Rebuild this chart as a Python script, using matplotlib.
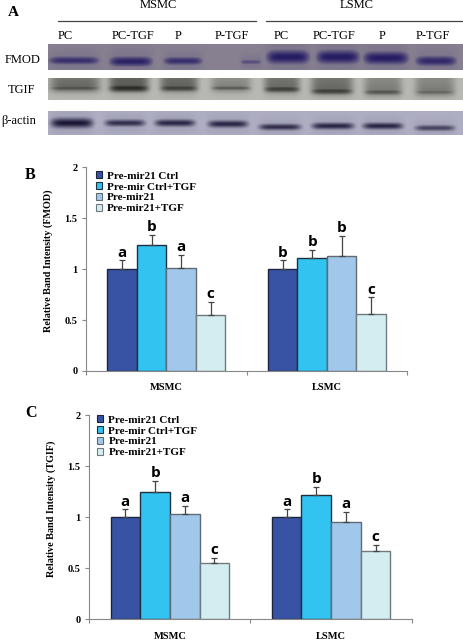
#!/usr/bin/env python3
import numpy as np
import matplotlib
matplotlib.use('Agg')
import matplotlib.pyplot as plt
from matplotlib.colors import LinearSegmentedColormap
from matplotlib.patches import Patch

W, H = 464, 640

groups = ['MSMC', 'LSMC']
series = ['Pre-mir21 Ctrl', 'Pre-mir Ctrl+TGF', 'Pre-mir21', 'Pre-mir21+TGF']
bar_colors = ['#3953a4', '#33c3f0', '#a1c8ea', '#d3edf1']
edge_colors = ['#1c2440', '#1c3040', '#5f6a75', '#6f7a80']

# panel B (FMOD): rows are series, columns are MSMC, LSMC
fmod_vals = [[1.0, 1.0], [1.235, 1.105], [1.015, 1.13], [0.553, 0.563]]
fmod_tops = [[1.085, 1.085], [1.335, 1.19], [1.138, 1.328], [0.68, 0.723]]
fmod_letters = [['a', 'b'], ['b', 'b'], ['a', 'b'], ['c', 'c']]

# panel C (TGIF)
tgif_vals = [[1.0, 1.0], [1.245, 1.222], [1.036, 0.95], [0.552, 0.67]]
tgif_tops = [[1.078, 1.078], [1.36, 1.3], [1.11, 1.052], [0.605, 0.732]]
tgif_letters = [['a', 'a'], ['b', 'b'], ['a', 'a'], ['c', 'c']]

yticks = [0, 0.5, 1, 1.5, 2]
ytick_labels = ['0', '0.5', '1', '1.5', '2']

# panel A, lane labels
lanes = ['PC', 'PC-TGF', 'P', 'P-TGF', 'PC', 'PC-TGF', 'P', 'P-TGF']
lane_label_x = [65, 133, 178, 232, 281, 334, 382, 433]

# blots: band centre x, half width, centre y, half height, strength
fmod_x = [74, 131, 183, 251, 288, 338, 386, 436]
fmod_w = [26, 22, 20, 11, 22, 22, 23, 21]
fmod_y = [60.5, 61.5, 61, 62, 57, 57, 58, 61]
fmod_h = [4.5, 5.5, 4.5, 3, 7.5, 7.5, 7, 5.5]
fmod_s = [0.85, 0.95, 0.85, 0.6, 1.0, 1.0, 1.0, 0.9]

tgif_x = [75, 129, 179, 231, 282, 332, 383, 435]
tgif_w = [25, 20, 19, 20, 18, 21, 19, 20]
tgif_y = [88, 88, 88, 88, 89, 91, 92, 92]
tgif_h = [3.2, 4.5, 4, 2.8, 4, 4, 3.4, 3.2]
tgif_s = [0.72, 0.95, 0.82, 0.65, 0.82, 0.82, 0.68, 0.58]
tgif_smear = [0.42, 0.5, 0.45, 0.25, 0.4, 0.42, 0.3, 0.3]

actin_x = [72, 125, 175, 228, 280, 333, 383, 435]
actin_w = [21, 20, 20, 20, 21, 21, 20, 20]
actin_y = [123, 123, 123, 124, 127, 126, 126, 128]
actin_h = [5, 3.5, 3.6, 3.6, 3.2, 3.4, 3.4, 3]
actin_s = [1.0, 0.85, 0.9, 0.9, 0.85, 0.9, 0.9, 0.72]

plt.rcParams['font.family'] = ['Liberation Serif', 'DejaVu Serif']

fig = plt.figure(figsize=(W / 100, H / 100), dpi=100)
page = fig.add_axes([0, 0, 1, 1])
page.set_xlim(0, W)
page.set_ylim(H, 0)
page.axis('off')


def draw_blot(y0, y1, xs, ws, ys, hs, ss, light, dark, base, smear=None):
    px = np.arange(48, 464) + 0.5
    py = np.arange(y0, y1) + 0.5
    gx, gy = np.meshgrid(px, py)
    img = base * np.ones_like(gx)
    for i, (x, w, y, h, s) in enumerate(zip(xs, ws, ys, hs, ss)):
        across = np.exp(-((gx - x) / w) ** 6)
        band = across * np.exp(-((gy - y) / h) ** 2)
        img += 0.1 * across * np.exp(-((gy - y) / (h * 2.5)) ** 2)
        if smear is not None:
            img += smear[i] * across * np.where(gy < y, 1, np.exp(-((gy - y) / 4) ** 2))
        img = np.maximum(img, s * band)
    cmap = LinearSegmentedColormap.from_list('blot', [light, dark])
    page.imshow(np.clip(img, 0, 1), cmap=cmap, vmin=0, vmax=1, aspect='auto',
                extent=(48, 464, y1, y0), interpolation='bilinear', zorder=1)


draw_blot(44, 70, fmod_x, fmod_w, fmod_y, fmod_h, fmod_s, '#a09a9c', '#251c64', 0.2)
draw_blot(78, 100, tgif_x, tgif_w, tgif_y, tgif_h, tgif_s, '#c0c0bc', '#23231f', 0.05, tgif_smear)
draw_blot(111, 135, actin_x, actin_w, actin_y, actin_h, actin_s, '#b6b6ca', '#1b1636', 0.05)
page.set_xlim(0, W)
page.set_ylim(H, 0)

page.text(8, 12, 'A', fontsize=11, fontweight='bold', va='center')
page.text(158, 5, 'MSMC', fontsize=9, ha='center', va='center')
page.text(357, 5, 'LSMC', fontsize=9, ha='center', va='center')
page.plot([58, 256], [21, 21], color='#444444', lw=0.9)
page.plot([266, 464], [21, 21], color='#444444', lw=0.9)
for lab, x in zip(lanes, lane_label_x):
    page.text(x, 36, lab, fontsize=9, ha='center', va='center')
page.text(23, 60, 'FMOD', fontsize=9, ha='center', va='center')
page.text(22, 90, 'TGIF', fontsize=9, ha='center', va='center')
page.text(19, 121, 'β-actin', fontsize=9, ha='center', va='center')
page.text(25, 175, 'B', fontsize=11.5, fontweight='bold', va='center')
page.text(25, 413, 'C', fontsize=11.5, fontweight='bold', va='center')


def draw_bars(box, vals, tops, letters, ylabel, legend_xy):
    left, top, right, bottom = box
    ax = fig.add_axes([left / W, 1 - bottom / H, (right - left) / W, (bottom - top) / H])
    ax.patch.set_alpha(0)
    x = np.arange(len(groups))
    width = 0.184
    for i, name in enumerate(series):
        pos = x + (i - 1.5) * width
        ax.bar(pos, vals[i], width, color=bar_colors[i], edgecolor=edge_colors[i], linewidth=1)
        err = np.array(tops[i]) - np.array(vals[i])
        ax.errorbar(pos, vals[i], yerr=[np.zeros(2), err], fmt='none', ecolor='#444444',
                    elinewidth=0.9, capsize=2.2, capthick=0.9)
        for p, t, lab in zip(pos, tops[i], letters[i]):
            ax.annotate(lab, (p, t), xytext=(0, 0.5), textcoords='offset points', ha='center',
                        va='bottom', fontsize=11, fontweight='bold', family='Open Sans')
    ax.set_xlim(-0.5, 1.5)
    ax.set_ylim(0, 2)
    ax.set_xticks([-0.5, 0.5, 1.5])
    ax.set_xticklabels([])
    ax.set_yticks(yticks)
    ax.set_yticklabels(ytick_labels, fontsize=7.5, fontweight='bold')
    ax.tick_params(axis='both', length=3, width=0.8, color='#888888', pad=3.5)
    for s in ['top', 'right']:
        ax.spines[s].set_visible(False)
    for s in ['left', 'bottom']:
        ax.spines[s].set_color('#888888')
    for c, name in zip(x, groups):
        ax.annotate(name, (c, 0), xycoords=('data', 'axes fraction'), xytext=(0, -12.2),
                    textcoords='offset points', ha='center', va='center', fontsize=7.5, fontweight='bold')
    ax.set_ylabel(ylabel, fontsize=7.3, fontweight='bold', labelpad=8, y=0.543)
    handles = [Patch(facecolor=c, edgecolor=e, linewidth=0.8) for c, e in zip(bar_colors, edge_colors)]
    ax.legend(handles, series, loc='upper left', bbox_to_anchor=legend_xy, frameon=False,
              prop={'weight': 'bold', 'size': 8}, borderpad=0, borderaxespad=0, labelspacing=0.12,
              handlelength=0.55, handleheight=0.6, handletextpad=0.45)
    return ax


draw_bars((86.3, 167.3, 407, 371), fmod_vals, fmod_tops, fmod_letters,
          'Relative Band Intensity (FMOD)', (0.03, 0.98))
draw_bars((89.3, 415.3, 411.7, 619.3), tgif_vals, tgif_tops, tgif_letters,
          'Relative Band Intensity (TGIF)', (0.025, 1.0))

fig.savefig('out.png', dpi=100)
